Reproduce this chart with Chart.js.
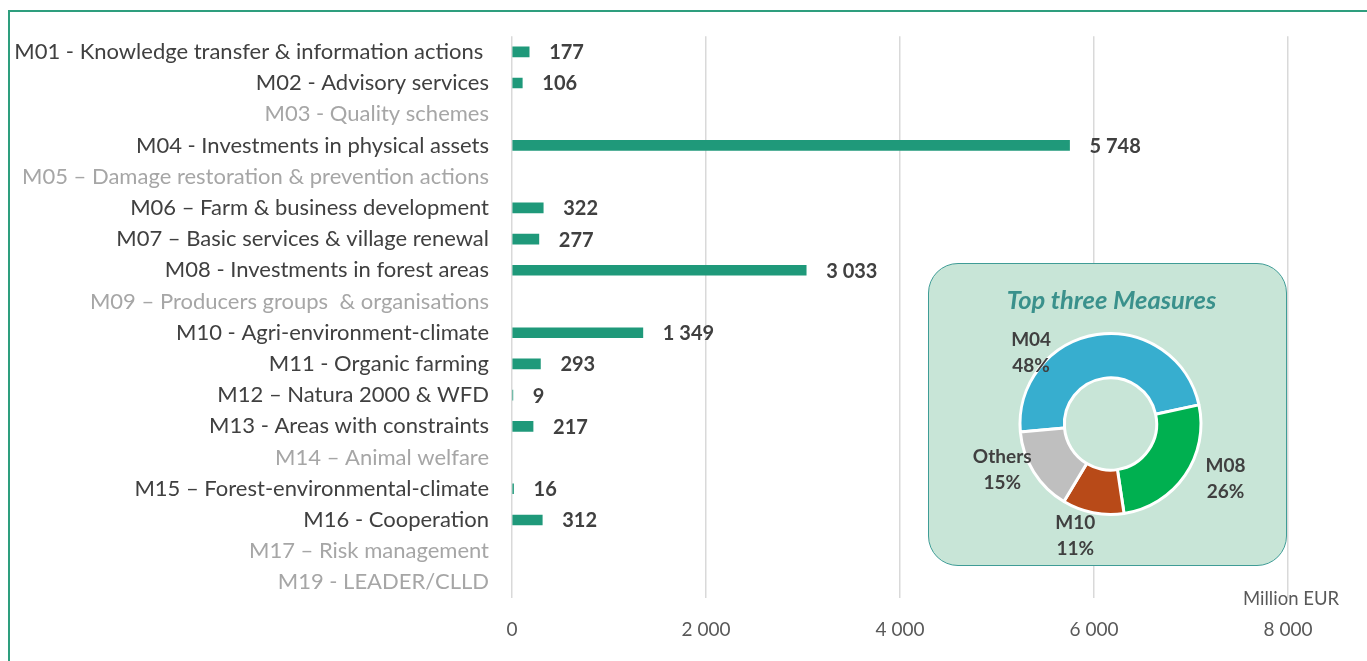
<!DOCTYPE html>
<html>
<head>
<meta charset="utf-8">
<script src="https://cdn.jsdelivr.net/npm/chart.js@4"></script>
<style>
    body { margin: 0; background: #fff; font-family: Lato, sans-serif; }
    #wrap { position: relative; width: 1367px; height: 661px; overflow: hidden; background: #fff; }
    #frame { position: absolute; left: 8px; top: 10px; width: 1400px; height: 700px; border: 2px solid #2e9e7e; box-sizing: border-box; }
    #mainChart { position: absolute; left: 0; top: 0; }
    #unit { position: absolute; left: 1243px; top: 587px; font-size: 18.5px; color: #595959; }
    #inset { position: absolute; left: 928px; top: 263px; width: 359px; height: 303px; border-radius: 30px; background: #c8e5d7; border: 1.5px solid #3f9c96; box-sizing: border-box; }
    #insetTitle { position: absolute; left: 0; top: 20px; width: 100%; text-align: center; font-size: 25.5px; font-weight: bold; font-style: italic; color: #3a918c; padding-left: 8px; box-sizing: border-box; }
    #donutChart { position: absolute; left: 0; top: 0; }
</style>
</head>
<body>
<div id="wrap">
    <div id="frame"></div>
    <canvas id="mainChart" width="1367" height="661"></canvas>
    <div id="unit">Million EUR</div>
    <div id="inset">
        <div id="insetTitle">Top three Measures</div>
        <canvas id="donutChart" width="356" height="300"></canvas>
    </div>
</div>
<script>
// measures and programmed amounts (Million EUR); null = no budget
const measures = [
    'M01 - Knowledge transfer & information actions ',
    'M02 - Advisory services',
    'M03 - Quality schemes',
    'M04 - Investments in physical assets',
    'M05 \u2013 Damage restoration & prevention actions',
    'M06 \u2013 Farm & business development',
    'M07 \u2013 Basic services & village renewal',
    'M08 - Investments in forest areas',
    'M09 \u2013 Producers groups  & organisations',
    'M10 - Agri-environment-climate',
    'M11 - Organic farming',
    'M12 \u2013 Natura 2000 & WFD',
    'M13 - Areas with constraints',
    'M14 \u2013 Animal welfare',
    'M15 \u2013 Forest-environmental-climate',
    'M16 - Cooperation',
    'M17 \u2013 Risk management',
    'M19 - LEADER/CLLD'
];
const amounts = [177, 106, null, 5748, null, 322, 277, 3033, null, 1349, 293, 9, 217, null, 16, 312, null, null];
const xTicks = [0, 2000, 4000, 6000, 8000];

// top three donut
const topLabels = ['M04', 'M08', 'M10', 'Others'];
const topShares = [48, 26, 11, 15];
const topColors = ['#37aecf', '#00b050', '#b84a18', '#bfbfbf'];

function fmt(v) {
    return String(v).replace(/\B(?=(\d{3})+(?!\d))/g, ' ');
}

const valueLabels = {
    id: 'valueLabels',
    afterDatasetsDraw(chart) {
        const ctx = chart.ctx;
        const meta = chart.getDatasetMeta(0);
        ctx.save();
        ctx.font = 'bold 20px Lato';
        ctx.fillStyle = '#404040';
        ctx.textAlign = 'left';
        ctx.textBaseline = 'middle';
        meta.data.forEach((bar, i) => {
            if (amounts[i] == null) return;
            ctx.fillText(fmt(amounts[i]), bar.x + 20, bar.y + 1);
        });
        ctx.restore();
    }
};

new Chart(document.getElementById('mainChart'), {
    type: 'bar',
    data: {
        labels: measures,
        datasets: [{
            data: amounts,
            backgroundColor: '#1f997a',
            barThickness: 10
        }]
    },
    options: {
        indexAxis: 'y',
        responsive: false,
        animation: false,
        layout: { padding: { top: 35, right: 79, bottom: 14, left: 0 } },
        plugins: { legend: { display: false }, tooltip: { enabled: false } },
        scales: {
            x: {
                min: 0,
                max: 8000,
                afterBuildTicks: (s) => { s.ticks = xTicks.map(v => ({ value: v })); },
                afterFit: (s) => { s.height = 49; },
                grid: { color: '#d9d9d9', lineWidth: 1.5, drawTicks: false },
                border: { display: false },
                ticks: {
                    padding: 20,
                    color: '#595959',
                    font: { family: 'Lato', size: 19 },
                    callback: (v) => fmt(v)
                }
            },
            y: {
                afterFit: (s) => { s.width = 512; },
                grid: { display: false, drawTicks: false },
                border: { display: false },
                ticks: {
                    padding: 23,
                    autoSkip: false,
                    font: { family: 'Lato', size: 22 },
                    color: (c) => amounts[c.index] == null ? '#a6a6a6' : '#404040'
                }
            }
        }
    },
    plugins: [valueLabels]
});

const donutLabels = {
    id: 'donutLabels',
    afterDatasetsDraw(chart, args, opts) {
        const ctx = chart.ctx;
        const meta = chart.getDatasetMeta(0);
        ctx.save();
        ctx.font = 'bold 19px Lato';
        ctx.fillStyle = '#404040';
        ctx.textAlign = 'center';
        ctx.textBaseline = 'middle';
        meta.data.forEach((arc, i) => {
            const [deg, f] = opts.placement[i];
            const a = (deg - 90) * Math.PI / 180;
            const px = arc.x + Math.cos(a) * arc.outerRadius * f;
            const py = arc.y + Math.sin(a) * arc.outerRadius * f;
            ctx.fillText(topLabels[i], px, py - 13);
            ctx.fillText(topShares[i] + '%', px, py + 13);
        });
        ctx.restore();
    }
};

new Chart(document.getElementById('donutChart'), {
    type: 'doughnut',
    data: {
        labels: topLabels,
        datasets: [{
            data: topShares,
            backgroundColor: topColors,
            borderColor: '#ffffff',
            borderWidth: 3
        }]
    },
    options: {
        responsive: false,
        animation: false,
        rotation: 265,
        cutout: '51%',
        layout: { padding: { top: 68, bottom: 48, left: 7, right: 0 } },
        plugins: {
            legend: { display: false },
            tooltip: { enabled: false },
            donutLabels: { placement: [[312, 1.18], [115.6, 1.41], [197.4, 1.3], [247, 1.3]] }
        }
    },
    plugins: [donutLabels]
});
</script>
</body>
</html>
